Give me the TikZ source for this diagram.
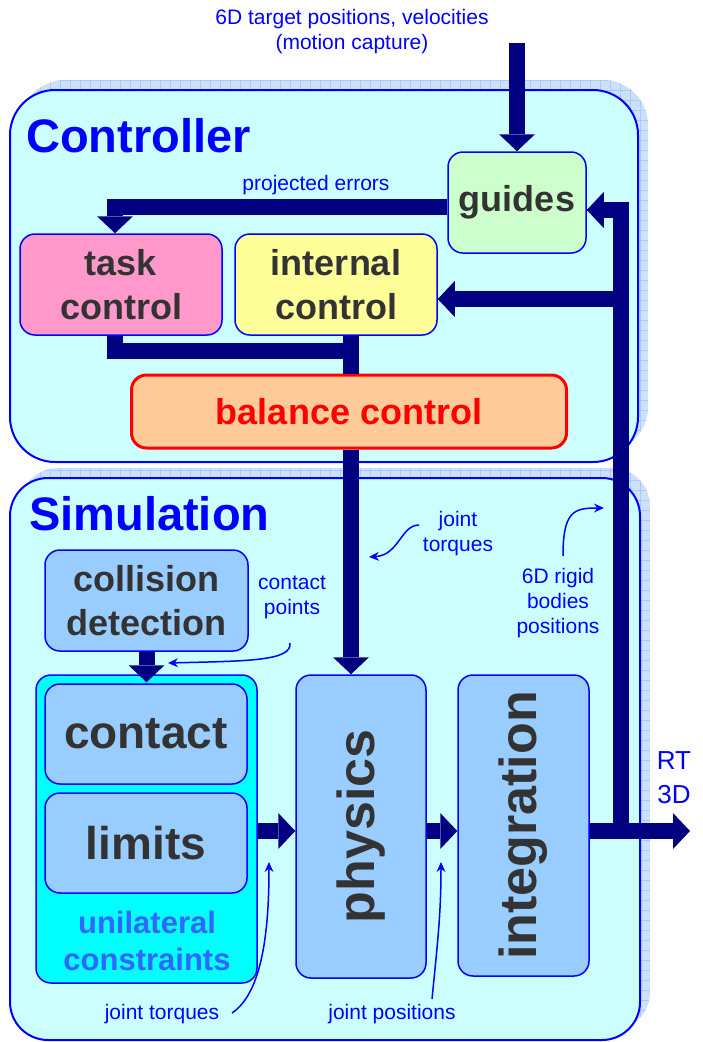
\documentclass[tikz,border=0pt]{standalone}
\usepackage{fontspec}
\setmainfont{Liberation Sans}
\usetikzlibrary{arrows.meta}
\usetikzlibrary{positioning}
\definecolor{navy}{HTML}{000080}
\definecolor{paneblue}{HTML}{0000FF}
\definecolor{panefill}{HTML}{CCFFFF}
\definecolor{shadefill}{HTML}{CCE0FF}
\definecolor{shadegrid}{HTML}{A8CCF5}
\definecolor{guidefill}{HTML}{CCFFCC}
\definecolor{taskfill}{HTML}{FF99CC}
\definecolor{intfill}{HTML}{FFFF99}
\definecolor{balfill}{HTML}{FFCC99}
\definecolor{simfill}{HTML}{99CCFF}
\definecolor{unifill}{HTML}{00FFFF}
\definecolor{unicolor}{HTML}{3366FF}
\definecolor{darktext}{HTML}{333333}
\newcommand{\notesfont}{\fontsize{21}{25}\selectfont}
\newcommand{\headfont}{\fontsize{47}{50}\selectfont\bfseries}
\newcommand{\blockfont}{\fontsize{36}{44}\selectfont\bfseries}
\newcommand{\cellfont}{\fontsize{46}{50}\selectfont\bfseries}
\newcommand{\turnfont}{\fontsize{52}{56}\selectfont\bfseries}
\newcommand{\unisfont}{\fontsize{31}{37}\selectfont\bfseries}
\tikzset{bus/.style = {draw = navy, line width = 16pt}}
\tikzset{bustip/.style = {-{Triangle[width = 36pt, length = 17pt, line width = 0pt]}}}
\tikzset{note/.style = {draw = paneblue, line width = 1.5pt,
                        -{Stealth[length = 10pt, width = 9pt, line width = 0pt]}}}
\tikzset{notetext/.style = {text = paneblue, font = \notesfont, align = center, inner sep = 0}}
\tikzset{panel/.style = {draw = paneblue, line width = 2pt, fill = panefill, rounded corners = 45pt}}
\tikzset{block/.style = {draw = paneblue, line width = 1.5pt, rounded corners = 15pt,
                         text = darktext, font = \blockfont, align = center, inner sep = 0}}

\begin{document}
\begin{tikzpicture}[x = 1pt, y = -1pt]
  \useasboundingbox (0,0) rectangle (702,1042);
  % shadows
  \foreach \xa/\ya/\xb/\yb/\r in {20/80/648/452/45, 20/468/650/1030/38}{
    \begin{scope}
      \clip[rounded corners = \r pt] (\xa,\ya) rectangle (\xb,\yb);
      \fill[shadefill] (\xa,\ya) rectangle (\xb,\yb);
      \draw[shadegrid, line width = 0.6pt] (\xa,\yb) grid[xstep = 10pt, ystep = 10pt] (\xb,\ya);
    \end{scope}
  }
  % panels
  \node[panel, minimum width = 628pt, minimum height = 372pt] (ctrl) at (324,276) {};
  \node[panel, rounded corners = 38pt, minimum width = 630pt, minimum height = 562pt] (sim) at (325,759) {};
  \node[anchor = base west, text = paneblue, font = \headfont, inner sep = 0] (ctitle) at (26,152) {Controller};
  \node[anchor = base west, text = paneblue, font = \headfont, inner sep = 0] (stitle) at (29,530) {Simulation};

  % controller
  \node[block, fill = guidefill, minimum width = 138pt, minimum height = 101pt] (guides) at (517,202.5) {guides};
  \node[block, fill = taskfill, minimum width = 202pt, minimum height = 101pt] (task) at (121,284.5) {task\\control};
  \node[block, fill = intfill, minimum width = 202pt, minimum height = 101pt] (internal) at (336,284.5) {internal\\control};
  \node[block, fill = balfill, draw = red, line width = 3pt, text = red,
        minimum width = 435pt, minimum height = 73pt] (balance) at (349,411.5) {balance control};

  % simulation
  \node[block, fill = simfill, minimum width = 203pt, minimum height = 101pt] (collision) at (146.5,600.5) {collision\\detection};
  \node[block, fill = unifill, minimum width = 221pt, minimum height = 308pt] (unilateral) at (146.5,829) {};
  \node[block, fill = simfill, font = \cellfont, minimum width = 202pt, minimum height = 100pt] (contact) at (146,734) {contact};
  \node[block, fill = simfill, font = \cellfont, minimum width = 202pt, minimum height = 100pt] (limits) at (146,843) {limits};
  \node[text = unicolor, font = \unisfont, align = center, inner sep = 0] (unitext) at (147,941) {unilateral\\constraints};
  \node[block, fill = simfill, minimum width = 130pt, minimum height = 303pt] (physics) at (361,826.5) {};
  \node[rotate = 90, text = darktext, font = \turnfont, inner sep = 0] (phystext) at (physics) {physics};
  \node[block, fill = simfill, minimum width = 131pt, minimum height = 301pt] (integration) at (523.5,825.5) {};
  \node[rotate = 90, text = darktext, font = \turnfont, inner sep = 0] (integtext) at (integration) {integration};

  % labels
  \node[notetext] (target) at (352,32) {6D target positions, velocities\\(motion capture)};
  \node[notetext] (errlbl) at (316,185) {projected errors};
  \node[notetext] (cplbl) at (292,597) {contact\\points};
  \node[notetext] (jtop) at (458,534) {joint\\torques};
  \node[notetext] (rigid) at (558,603) {6D rigid\\bodies\\positions};
  \node[notetext] (jtbot) at (162,1014) {joint torques};
  \node[notetext] (jpos) at (392,1014) {joint positions};
  \node[text = paneblue, font = \fontsize{26}{34}\selectfont, align = center, inner sep = 0] (rt) at (674,778) {RT\\3D};

  % thick connectors
  \coordinate (mocap) at (517,43);
  \coordinate (join) at (351,351);
  \coordinate (fork) at (621,831);
  \coordinate (fbtop) at (621,210);
  \coordinate (fbint) at (621,299);
  \coordinate (out) at (690,831);
  \draw[bus, bustip] (mocap) -- (guides.north);
  \draw[bus, bustip] ([yshift = -4.5pt]guides.west) -| ([xshift = -6pt]task.north);
  \draw[bus] ([xshift = -6pt]task.south) |- (join);
  \draw[bus] (internal.south -| join) -- (balance.north -| join);
  \draw[bus, bustip] (balance.south -| join) -- (physics.north -| join);
  \draw[bus, bustip] (collision.south) -- ([yshift = -8pt]unilateral.north);
  \draw[bus, bustip] (unilateral.east |- fork) -- (physics.west |- fork);
  \draw[bus, bustip] (physics.east |- fork) -- (integration.west |- fork);
  \draw[bus, bustip] (integration.east |- fork) -- (out);
  \draw[bus, bustip] (fork) -- (fbtop) -- (fbtop -| guides.east);
  \draw[bus, bustip] (fbint) -- (fbint -| internal.east);

  % thin notes
  \coordinate (cp-from) at (290,643);   \coordinate (cp-to) at (168,663);
  \coordinate (jt-from) at (419,525);   \coordinate (jt-to) at (369,557);
  \coordinate (rb-from) at (563,556);   \coordinate (rb-to) at (604,508);
  \coordinate (jtb-from) at (232,1013); \coordinate (jtb-to) at (269,862);
  \coordinate (jp-from) at (432,999);   \coordinate (jp-to) at (441,862);
  \draw[note] (cp-from) .. controls +(2,18) and +(80,-2) .. (cp-to);
  \draw[note] (jt-from) .. controls +(-18,0) and +(30,-2) .. (jt-to);
  \draw[note] (rb-from) .. controls +(0,-45) and +(-30,0) .. (rb-to);
  \draw[note] (jtb-from) .. controls +(30,-20) and +(0,70) .. (jtb-to);
  \draw[note] (jp-from) .. controls +(6,-60) and +(0,50) .. (jp-to);
\end{tikzpicture}
\end{document}
